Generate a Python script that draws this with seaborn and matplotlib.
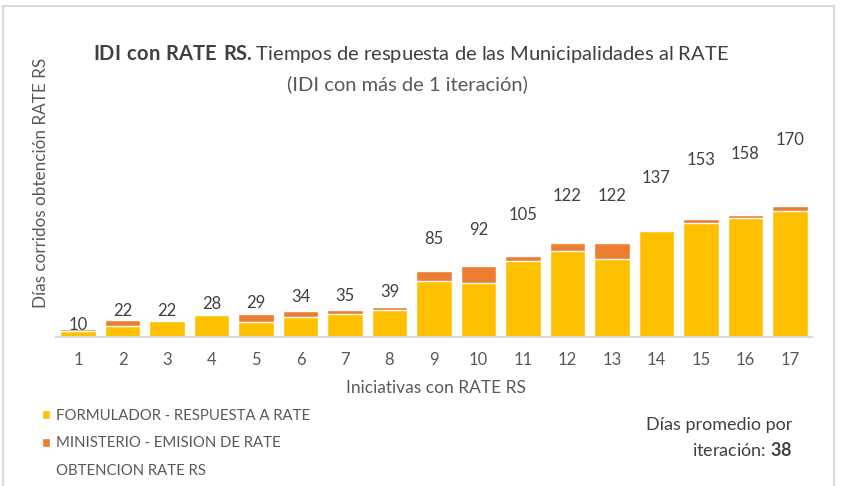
import numpy as np
import pandas as pd
import matplotlib
matplotlib.use("Agg")
import matplotlib.pyplot as plt
from matplotlib.patches import Patch, Rectangle
import seaborn as sns

# values
iniciativas = [str(i) for i in range(1, 18)]
formulador = [7, 14, 20, 28, 19, 26, 29, 35, 72, 70, 98, 111, 101, 137, 148, 154, 163]
ministerio = [3, 8, 2, 0, 10, 8, 6, 4, 13, 22, 7, 11, 21, 0, 5, 4, 7]
totales = [10, 22, 22, 28, 29, 34, 35, 39, 85, 92, 105, 122, 122, 137, 153, 158, 170]
promedio = 38

YELLOW = "#FFC000"
ORANGE = "#ED7D31"
GREY_TXT = "#595959"
DARK_TXT = "#404040"

df = pd.DataFrame({"iniciativa": iniciativas, "formulador": formulador,
                   "ministerio": ministerio, "total": totales})

sns.set_theme(style="white")
plt.rcParams["font.family"] = ["Lato", "DejaVu Sans"]
plt.rcParams["mathtext.fontset"] = "custom"
plt.rcParams["mathtext.rm"] = "Lato"
plt.rcParams["mathtext.bf"] = "Lato:bold"

W, H = 846, 486
fig = plt.figure(figsize=(W / 100, H / 100), dpi=100)
ax = fig.add_axes([55.75 / W, (H - 336.7) / H, 756.5 / W, 231 / H])

# stacked: orange drawn full height, yellow over the lower part
sns.barplot(data=df, x="iniciativa", y="total", color=ORANGE, width=0.79,
            saturation=1, ax=ax)
sns.barplot(data=df, x="iniciativa", y="formulador", color=YELLOW, width=0.79,
            saturation=1, ax=ax)

# labels sit in the middle of a hidden stacked series (as in the Excel chart)
for i, t in enumerate(df["total"]):
    ax.text(i, t * 1.5, str(t), ha="center", va="center", fontsize=12, color=DARK_TXT)

ax.set_xlim(-0.5, len(iniciativas) - 0.5)
ax.set_ylim(0, 300)
ax.set_xlabel("")
ax.set_ylabel("")
ax.set_yticks([])
sns.despine(ax=ax, left=True)
ax.spines["bottom"].set_color("#d9d9d9")
ax.spines["bottom"].set_linewidth(1.5)
ax.tick_params(axis="x", length=0, pad=11, labelsize=12, labelcolor=GREY_TXT)

fig.text(41 / W, 1 - 183 / H, "Días corridos obtención RATE RS", rotation=90,
         ha="center", va="center", fontsize=12.3, color=GREY_TXT)
fig.text(436 / W, 1 - 388 / H, "Iniciativas con RATE RS", ha="center", va="center",
         fontsize=12.5, color=GREY_TXT)

fig.text(411 / W, 1 - 54 / H,
         r"$\mathbf{IDI\ con\ RATE\ RS.}$Tiempos de respuesta de las Municipalidades al RATE",
         ha="center", va="center", fontsize=14.5, color=DARK_TXT)
fig.text(407 / W, 1 - 84 / H, "(IDI con más de 1 iteración)", ha="center", va="center",
         fontsize=14.5, color=GREY_TXT)

fig.text(792 / W, 1 - 425 / H, "Días promedio por", ha="right", va="center",
         fontsize=13, color=DARK_TXT)
fig.text(792 / W, 1 - 450 / H, "iteración: $\\mathbf{" + str(promedio) + "}$", ha="right",
         va="center", fontsize=13, color=DARK_TXT)

handles = [Patch(facecolor=YELLOW), Patch(facecolor=ORANGE), Patch(facecolor="none")]
labels = ["FORMULADOR - RESPUESTA A RATE", "MINISTERIO - EMISION DE RATE", "OBTENCION RATE RS"]
leg = fig.legend(handles, labels, loc="upper left", bbox_to_anchor=(42 / W, 1 - 409 / H),
                 frameon=False, fontsize=10.7, handlelength=0.55, handleheight=0.55,
                 handletextpad=0.4, labelspacing=0.9, borderaxespad=0, borderpad=0)
for t in leg.get_texts():
    t.set_color(GREY_TXT)

# chart-area frame from the screenshot
fig.patches.append(Rectangle((3 / W, -0.1), 831 / W, 1.1 - 6.5 / H, transform=fig.transFigure,
                             fill=False, edgecolor="#d9d9d9", linewidth=1.5))

fig.savefig("out.png", dpi=100)
